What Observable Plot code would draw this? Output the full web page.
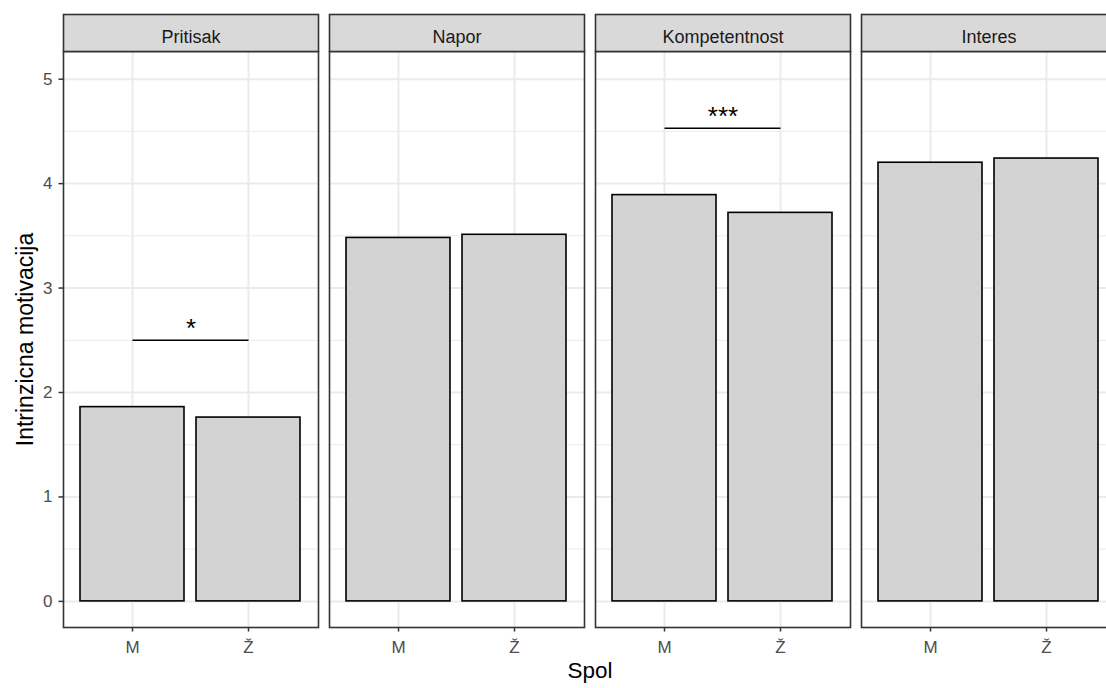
<!DOCTYPE html>
<html><head><meta charset="utf-8">
<script src="https://cdn.jsdelivr.net/npm/d3@7"></script>
<script src="https://cdn.jsdelivr.net/npm/@observablehq/plot@0.6"></script>
<style>html,body{margin:0;padding:0;overflow:hidden;background:#fff;} #chart{width:1106px;height:688px;overflow:hidden;} #chart svg{max-width:none !important;}</style>
</head><body><div id="chart"></div>
<script>
const panels = ["Pritisak", "Napor", "Kompetentnost", "Interes"];
const genders = ["M", "Ž"];
const valuesM = [1.86, 3.48, 3.89, 4.20];
const valuesZ = [1.76, 3.51, 3.72, 4.24];
const sigPanels = ["Pritisak", "Kompetentnost"];
const sigY = [2.5, 4.53];
const sigLabels = ["*", "***"];
const yTicks = [0, 1, 2, 3, 4, 5];
const yMinor = [0.5, 1.5, 2.5, 3.5, 4.5];

const bars = panels.flatMap((p, i) => [
  {panel: p, spol: genders[0], value: valuesM[i]},
  {panel: p, spol: genders[1], value: valuesZ[i]}
]);
const sig = sigPanels.map((p, i) => ({panel: p, x1: genders[0], x2: genders[1], y: sigY[i], label: sigLabels[i]}));

const font = "'Liberation Sans', Arial, sans-serif";

const chart = Plot.plot({
  width: 1117,
  height: 688,
  marginLeft: 62,
  marginRight: 0,
  marginTop: 51,
  marginBottom: 61,
  style: {fontFamily: font, fontSize: "17px", background: "#fff", maxWidth: "none"},
  fx: {domain: panels, paddingInner: 0.043, paddingOuter: 0},
  x: {domain: genders, paddingInner: 0.1, paddingOuter: 0.149},
  y: {domain: [-0.25, 5.265]},
  marks: [
    Plot.gridY(yMinor, {stroke: "#ebebeb", strokeOpacity: 1, strokeWidth: 1}),
    Plot.gridY(yTicks, {stroke: "#ebebeb", strokeOpacity: 1, strokeWidth: 2}),
    Plot.gridX({stroke: "#ebebeb", strokeOpacity: 1, strokeWidth: 2}),
    Plot.barY(bars, {fx: "panel", x: "spol", y: "value", fill: "#d3d3d3", stroke: "#000", strokeWidth: 1.6}),
    Plot.link(sig, {fx: "panel", x1: "x1", x2: "x2", y1: "y", y2: "y", stroke: "#000", strokeWidth: 1.5}),
    Plot.text(sig, {fx: "panel", y: "y", text: "label", dy: -12, fontSize: 26, fill: "#000"}),
    Plot.frame({stroke: "#333", strokeWidth: 1.6}),
    Plot.frame({fill: "#d9d9d9", stroke: "#333", strokeWidth: 1.6, insetTop: -37, insetBottom: 576}),
    Plot.axisFx({anchor: "top", tickSize: 0, tickPadding: 9, label: null, fontSize: 18, fill: "#1a1a1a"}),
    Plot.axisY(yTicks, {anchor: "left", tickSize: 4.5, tickPadding: 6.5, tickFormat: d => String(d), fontSize: 17, fill: "#4d4d4d", stroke: "#333", strokeWidth: 1.5, label: null}),
    Plot.axisY({anchor: "left", ticks: [], tickSize: 0, label: "Intrinzicna motivacija", labelAnchor: "center", labelArrow: "none", labelOffset: 47, fontSize: 23, fill: "#000"}),
    Plot.axisX({anchor: "bottom", tickSize: 4.5, tickPadding: 9, fontSize: 17, fill: "#4d4d4d", stroke: "#333", strokeWidth: 1.5, label: null}),
    Plot.axisX({anchor: "bottom", ticks: [], tickSize: 0, label: "Spol", labelAnchor: "center", labelOffset: 50, fontSize: 22.5, fill: "#000"})
  ]
});
chart.style.maxWidth = "none";
document.getElementById("chart").appendChild(chart);
</script>
</body></html>
